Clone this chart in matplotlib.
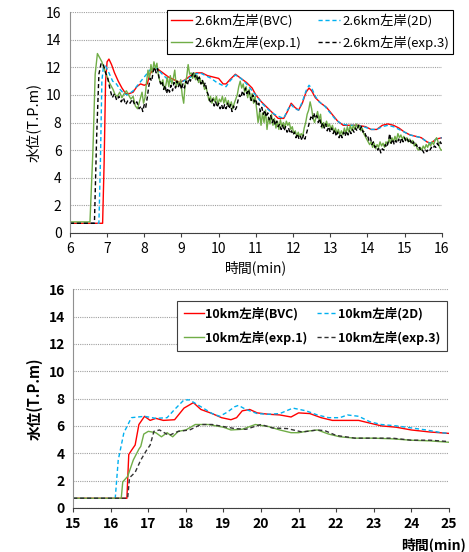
import matplotlib
matplotlib.use('Agg')
import matplotlib.pyplot as plt

plt.rcParams['font.family'] = ['Noto Sans CJK JP', 'DejaVu Sans']

# ---- 2.6km (upper chart) ----
t_bvc_26 = [6.0, 6.88, 6.92, 6.96, 7.0, 7.05, 7.12, 7.2, 7.3, 7.4, 7.5, 7.6, 7.7, 7.8, 7.9, 8.0, 8.08, 8.15,
            8.25, 8.35, 8.5, 8.65, 8.8, 8.95, 9.1, 9.25, 9.4, 9.55, 9.7, 9.85, 10.0, 10.12, 10.2, 10.3, 10.45,
            10.6, 10.75, 10.9, 11.0, 11.15, 11.3, 11.45, 11.6, 11.75, 11.85, 11.95, 12.05, 12.15, 12.25, 12.35,
            12.43, 12.5, 12.6, 12.75, 12.9, 13.05, 13.2, 13.35, 13.55, 13.75, 13.95, 14.1, 14.25, 14.4, 14.55,
            14.7, 14.85, 15.0, 15.15, 15.3, 15.45, 15.6, 15.7, 15.85, 16.0]
v_bvc_26 = [0.7, 0.7, 5.0, 11.0, 12.4, 12.6, 12.2, 11.6, 11.0, 10.5, 10.1, 10.1, 10.2, 10.6, 10.8, 10.7, 10.8, 11.5,
            11.9, 11.9, 11.6, 11.3, 11.1, 10.9, 11.1, 11.4, 11.6, 11.6, 11.4, 11.3, 11.2, 10.8, 10.8, 11.1, 11.5,
            11.2, 10.9, 10.5, 10.0, 9.5, 9.1, 8.7, 8.3, 8.3, 8.8, 9.4, 9.1, 8.9, 9.4, 10.2,
            10.5, 10.3, 9.8, 9.4, 9.1, 8.6, 8.1, 7.8, 7.8, 7.8, 7.7, 7.5, 7.5, 7.8, 7.9,
            7.8, 7.6, 7.3, 7.1, 7.0, 6.9, 6.6, 6.5, 6.8, 6.9]

t_2d_26 = [6.0, 6.78, 6.82, 6.86, 6.9, 6.96, 7.05, 7.15, 7.25, 7.35, 7.45, 7.55, 7.7, 7.85, 8.0, 8.15, 8.3, 8.45,
           8.6, 8.75, 8.9, 9.05, 9.2, 9.35, 9.5, 9.65, 9.8, 9.95, 10.1, 10.2, 10.3, 10.45, 10.6, 10.75, 10.9,
           11.05, 11.2, 11.35, 11.5, 11.65, 11.75, 11.85, 11.95, 12.05, 12.15, 12.25, 12.35, 12.43, 12.5, 12.6,
           12.7, 12.85, 13.0, 13.15, 13.3, 13.5, 13.7, 13.9, 14.1, 14.25, 14.4, 14.55, 14.7, 14.85, 15.0, 15.15,
           15.3, 15.45, 15.6, 15.7, 15.85, 16.0]
v_2d_26 = [0.7, 0.7, 5.0, 11.0, 12.0, 12.1, 11.6, 11.0, 10.8, 10.4, 10.1, 10.0, 10.3, 10.8, 11.3, 11.8, 12.0, 11.6,
           11.2, 10.9, 10.8, 11.0, 11.2, 11.5, 11.6, 11.4, 11.2, 10.9, 10.7, 10.6, 11.0, 11.45, 11.2, 10.8, 10.3,
           9.8, 9.3, 8.9, 8.6, 8.4, 8.3, 8.9, 9.3, 9.0, 8.9, 9.5, 10.3, 10.7, 10.5, 9.9,
           9.5, 9.2, 8.7, 8.2, 7.9, 7.8, 7.8, 7.7, 7.5, 7.5, 7.7, 7.8, 7.7, 7.5, 7.3, 7.1,
           7.0, 6.9, 6.6, 6.5, 6.8, 6.9]

t_exp1_26 = [6.0, 6.54, 6.62, 6.68, 6.74, 6.8, 6.86, 6.92, 6.98, 7.04, 7.1, 7.16, 7.22, 7.28, 7.34, 7.4, 7.46,
             7.52, 7.58, 7.64, 7.7, 7.76, 7.82, 7.88, 7.94, 7.98, 8.02, 8.06, 8.1, 8.14, 8.18, 8.22, 8.26, 8.3,
             8.34, 8.38, 8.42, 8.46, 8.5, 8.54, 8.58, 8.62, 8.66, 8.7, 8.74, 8.78, 8.82, 8.86, 8.9, 8.94, 8.98,
             9.02, 9.06, 9.1, 9.14, 9.18, 9.22, 9.26, 9.3, 9.34, 9.38, 9.42, 9.46, 9.5, 9.54, 9.58, 9.62, 9.66,
             9.7, 9.74, 9.78, 9.82, 9.86, 9.9, 9.94, 9.98, 10.02, 10.06, 10.1, 10.14, 10.18, 10.22, 10.26, 10.3,
             10.34, 10.38, 10.42, 10.46, 10.5, 10.54, 10.58, 10.62, 10.66, 10.7, 10.74, 10.78, 10.82, 10.86, 10.9,
             10.94, 10.98, 11.02, 11.06, 11.1, 11.14, 11.18, 11.22, 11.26, 11.3, 11.34, 11.38, 11.42, 11.46, 11.5,
             11.54, 11.58, 11.62, 11.66, 11.7, 11.74, 11.78, 11.82, 11.86, 11.9, 11.94, 11.98, 12.02, 12.06, 12.1,
             12.14, 12.18, 12.22, 12.26, 12.3, 12.34, 12.38, 12.42, 12.46, 12.5, 12.54, 12.58, 12.62, 12.66, 12.7,
             12.74, 12.78, 12.82, 12.86, 12.9, 12.94, 12.98, 13.02, 13.06, 13.1, 13.14, 13.18, 13.22, 13.26, 13.3,
             13.34, 13.38, 13.42, 13.46, 13.5, 13.54, 13.58, 13.62, 13.66, 13.7, 13.74, 13.78, 13.82, 13.86, 13.9,
             13.94, 13.98, 14.02, 14.06, 14.1, 14.14, 14.18, 14.22, 14.26, 14.3, 14.34, 14.38, 14.42, 14.46, 14.5,
             14.54, 14.58, 14.62, 14.66, 14.7, 14.74, 14.78, 14.82, 14.86, 14.9, 14.94, 14.98, 15.02, 15.06, 15.1,
             15.14, 15.18, 15.22, 15.26, 15.3, 15.34, 15.38, 15.42, 15.46, 15.5, 15.54, 15.58, 15.62, 15.66, 15.7,
             15.74, 15.78, 15.82, 15.86, 15.9, 15.94, 15.98, 16.0]
v_exp1_26 = [0.8, 0.8, 6.0, 11.5, 13.0, 12.7, 12.4, 11.9, 11.5, 11.0, 10.7, 10.4, 10.0, 9.9, 10.2, 9.8, 10.1,
             10.3, 10.0, 9.7, 9.9, 9.2, 9.0, 9.6, 10.2, 9.4, 9.8, 10.9, 11.8, 11.2, 12.2, 11.6, 12.4, 11.9,
             12.3, 11.4, 11.0, 10.8, 11.1, 10.4, 10.7, 11.3, 10.6, 11.4, 10.8, 11.2, 11.8, 10.6, 11.0, 10.7, 11.1,
             10.0, 9.4, 10.8, 11.3, 12.2, 11.5, 11.6, 11.2, 11.6, 11.1, 11.4, 10.9, 11.2, 10.8, 11.0, 10.4, 10.6,
             10.1, 9.6, 9.9, 9.4, 9.8, 9.5, 9.9, 9.3, 9.7, 9.5, 9.9, 9.4, 9.8, 9.3, 9.6, 9.1,
             9.5, 9.0, 9.4, 9.7, 10.0, 10.6, 11.0, 10.5, 10.8, 10.2, 10.6, 9.8, 10.4, 9.6, 10.1,
             9.4, 9.9, 9.0, 8.0, 8.8, 7.8, 8.7, 8.0, 8.9, 7.5, 8.4, 7.9, 8.6, 7.8, 8.3,
             7.6, 8.1, 7.5, 8.2, 7.7, 8.0, 7.6, 8.1, 7.8, 8.0, 7.5, 7.7, 7.2, 7.4, 7.0,
             7.3, 7.0, 7.2, 7.0, 7.6, 8.0, 8.6, 8.9, 9.5, 9.0, 8.3, 8.0, 8.4, 8.8, 8.2,
             8.6, 7.6, 8.0, 7.7, 8.1, 7.7, 7.9, 7.5, 7.8, 7.3, 7.6, 7.2, 7.5, 7.1, 7.4,
             7.1, 7.6, 7.2, 7.7, 7.3, 7.8, 7.4, 7.8, 7.5, 7.9, 7.6, 7.8, 7.4, 7.6, 7.2,
             7.0, 6.8, 6.6, 6.4, 6.6, 6.2, 6.5, 6.1, 6.4, 6.2, 6.6, 6.3, 6.5, 6.2, 6.6,
             6.4, 6.8, 6.5, 6.9, 6.6, 7.0, 6.7, 7.2, 6.9, 7.1, 6.8, 7.0, 6.7, 6.9, 6.6,
             6.8, 6.5, 6.7, 6.3, 6.5, 6.1, 6.0, 6.2, 6.0, 6.3, 6.1, 6.4, 6.2, 6.5, 6.3,
             6.6, 6.4, 6.7, 6.9, 6.6, 6.2, 6.0, 6.0]

t_exp3_26 = [6.0, 6.66, 6.72, 6.78, 6.84, 6.9, 6.96, 7.02, 7.08, 7.14, 7.2, 7.26, 7.32, 7.38, 7.44, 7.5, 7.56,
             7.62, 7.68, 7.74, 7.8, 7.86, 7.92, 7.96, 8.0, 8.04, 8.08, 8.12, 8.16, 8.2, 8.24, 8.28, 8.32, 8.36,
             8.4, 8.44, 8.48, 8.52, 8.56, 8.6, 8.64, 8.68, 8.72, 8.76, 8.8, 8.84, 8.88, 8.92, 8.96, 9.0, 9.04,
             9.08, 9.12, 9.16, 9.2, 9.24, 9.28, 9.32, 9.36, 9.4, 9.44, 9.48, 9.52, 9.56, 9.6, 9.64, 9.68, 9.72,
             9.76, 9.8, 9.84, 9.88, 9.92, 9.96, 10.0, 10.04, 10.08, 10.12, 10.16, 10.2, 10.24, 10.28, 10.32,
             10.36, 10.4, 10.44, 10.48, 10.52, 10.56, 10.6, 10.64, 10.68, 10.72, 10.76, 10.8, 10.84, 10.88,
             10.92, 10.96, 11.0, 11.04, 11.08, 11.12, 11.16, 11.2, 11.24, 11.28, 11.32, 11.36, 11.4, 11.44,
             11.48, 11.52, 11.56, 11.6, 11.64, 11.68, 11.72, 11.76, 11.8, 11.84, 11.88, 11.92, 11.96, 12.0,
             12.04, 12.08, 12.12, 12.16, 12.2, 12.24, 12.28, 12.32, 12.36, 12.4, 12.44, 12.48, 12.52, 12.56,
             12.6, 12.64, 12.68, 12.72, 12.76, 12.8, 12.84, 12.88, 12.92, 12.96, 13.0, 13.04, 13.08, 13.12,
             13.16, 13.2, 13.24, 13.28, 13.32, 13.36, 13.4, 13.44, 13.48, 13.52, 13.56, 13.6, 13.64, 13.68,
             13.72, 13.76, 13.8, 13.84, 13.88, 13.92, 13.96, 14.0, 14.04, 14.08, 14.12, 14.16, 14.2, 14.24,
             14.28, 14.32, 14.36, 14.4, 14.44, 14.48, 14.52, 14.56, 14.6, 14.64, 14.68, 14.72, 14.76, 14.8,
             14.84, 14.88, 14.92, 14.96, 15.0, 15.04, 15.08, 15.12, 15.16, 15.2, 15.24, 15.28, 15.32, 15.36,
             15.4, 15.44, 15.48, 15.52, 15.56, 15.6, 15.64, 15.68, 15.72, 15.76, 15.8, 15.84, 15.88, 15.92,
             15.96, 16.0]
v_exp3_26 = [0.7, 0.7, 7.0, 11.5, 12.3, 12.2, 11.6, 11.2, 10.4, 9.8, 10.1, 9.6, 9.9, 9.5, 9.8, 9.3, 9.6,
             9.4, 9.7, 9.3, 9.5, 9.0, 9.2, 8.8, 9.3, 9.1, 9.8, 10.6, 11.2, 11.0, 11.7, 12.0, 11.6, 11.9,
             11.2, 10.8, 11.0, 10.4, 10.7, 10.1, 10.5, 10.2, 10.7, 10.3, 10.9, 10.5, 11.0, 10.6, 10.9, 10.4, 10.8,
             10.5, 11.0, 10.7, 11.2, 11.0, 11.4, 11.6, 11.3, 11.5, 11.0, 11.3, 10.8, 11.1, 10.6, 10.9, 10.3, 10.0,
             9.6, 9.4, 9.7, 9.2, 9.5, 9.1, 9.4, 9.0, 9.3, 8.9, 9.3, 9.0, 9.4, 9.0, 9.3,
             8.8, 9.2, 8.9, 9.1, 9.6, 10.0, 9.8, 10.3, 10.0, 10.5, 10.1, 10.4, 10.0, 9.6,
             10.0, 9.5, 9.7, 9.2, 9.4, 8.8, 9.1, 8.6, 8.9, 8.4, 8.7, 8.2, 8.5, 8.0,
             8.3, 7.8, 8.1, 7.7, 7.9, 7.5, 7.8, 7.4, 7.7, 7.3, 7.6, 7.2, 7.4, 7.1,
             7.3, 6.9, 7.2, 6.8, 7.0, 6.7, 7.1, 6.8, 7.2, 7.6, 8.0, 8.4, 8.2, 8.7,
             8.3, 8.5, 8.0, 8.3, 7.7, 8.0, 7.6, 7.9, 7.4, 7.7, 7.3, 7.6, 7.2, 7.5,
             7.0, 7.3, 6.9, 7.2, 6.9, 7.3, 7.0, 7.4, 7.1, 7.4, 7.2, 7.5, 7.3, 7.6,
             7.4, 7.8, 7.5, 7.7, 7.3, 7.4, 7.0, 7.1, 6.7, 6.9, 6.4, 6.6, 6.2, 6.3,
             6.0, 6.2, 5.8, 6.1, 6.0, 6.4, 6.2, 6.6, 7.2, 6.5, 6.8, 6.4, 6.7, 6.5,
             6.8, 6.5, 6.9, 6.6, 6.9, 6.6, 6.8, 6.5, 6.7, 6.4, 6.6, 6.3, 6.4, 6.1,
             6.2, 5.9, 6.0, 5.8, 6.0, 5.9, 6.1, 6.0, 6.2, 6.1, 6.3, 6.2, 6.5, 6.3,
             6.6, 6.4]

# ---- 10km (lower chart) ----
t_bvc_10 = [15.0, 16.43, 16.48, 16.55, 16.65, 16.75, 16.9, 17.05, 17.2, 17.4, 17.7, 17.95, 18.2, 18.4, 18.7,
            18.95, 19.2, 19.35, 19.5, 19.7, 19.9, 20.2, 20.5, 20.8, 21.0, 21.3, 21.6, 21.9, 22.2, 22.6, 22.9,
            23.2, 23.6, 24.0, 24.5, 25.0]
v_bvc_10 = [0.7, 0.7, 3.9, 4.2, 4.6, 6.1, 6.7, 6.4, 6.55, 6.4, 6.45, 7.3, 7.7, 7.2, 6.9,
            6.6, 6.45, 6.6, 7.1, 7.2, 6.95, 6.85, 6.8, 6.65, 6.95, 6.9, 6.6, 6.4, 6.4, 6.4, 6.2,
            6.0, 5.9, 5.7, 5.55, 5.45]

t_2d_10 = [15.0, 16.12, 16.2, 16.35, 16.55, 16.9, 17.2, 17.5, 17.7, 17.95, 18.1, 18.4, 18.7, 18.9, 19.1, 19.3,
           19.4, 19.6, 19.9, 20.2, 20.5, 20.85, 21.2, 21.5, 21.8, 22.1, 22.3, 22.6, 22.9, 23.2, 23.6, 24.0,
           24.4, 24.8, 25.0]
v_2d_10 = [0.7, 0.7, 3.5, 5.5, 6.6, 6.7, 6.55, 6.6, 7.2, 7.9, 7.9, 7.4, 6.9, 6.7, 7.0, 7.4,
           7.5, 7.2, 6.9, 6.85, 6.9, 7.3, 7.1, 6.8, 6.6, 6.6, 6.8, 6.7, 6.3, 6.1, 6.0, 5.85,
           5.7, 5.5, 5.45]

t_exp1_10 = [15.0, 16.28, 16.32, 16.45, 16.6, 16.75, 16.8, 16.88, 17.0, 17.2, 17.35, 17.5, 17.65, 17.8, 18.0,
             18.25, 18.6, 19.0, 19.2, 19.5, 19.85, 20.2, 20.5, 20.8, 21.0, 21.2, 21.5, 21.8, 22.1, 22.5, 23.0,
             23.5, 24.0, 24.5, 25.0]
v_exp1_10 = [0.7, 0.7, 1.9, 2.3, 3.5, 4.3, 4.5, 5.4, 5.6, 5.5, 5.2, 5.5, 5.2, 5.6, 5.7,
             6.1, 6.1, 5.9, 5.7, 5.75, 6.1, 5.95, 5.7, 5.5, 5.5, 5.6, 5.7, 5.4, 5.2, 5.1, 5.1,
             5.05, 4.95, 4.9, 4.8]

t_exp3_10 = [15.0, 16.45, 16.5, 16.65, 16.8, 16.95, 17.05, 17.15, 17.3, 17.55, 17.8, 18.1, 18.4, 18.7, 19.0,
             19.3, 19.6, 20.0, 20.3, 20.7, 21.1, 21.5, 21.7, 22.0, 22.5, 23.0, 23.5, 24.0, 24.5, 25.0]
v_exp3_10 = [0.7, 0.7, 2.2, 2.6, 3.5, 4.2, 4.6, 5.6, 5.7, 5.3, 5.6, 5.7, 6.1, 6.1, 5.95,
             5.8, 5.75, 6.1, 5.85, 5.8, 5.55, 5.7, 5.65, 5.3, 5.1, 5.1, 5.1, 4.95, 4.95, 4.85]

RED = '#ff0000'
CYAN = '#00b0f0'
GREEN = '#70ad47'
BLACK = '#000000'

fig = plt.figure(figsize=(4.69, 5.52), dpi=100)
ax1 = fig.add_axes([0.149, 0.578, 0.793, 0.400])
ax2 = fig.add_axes([0.156, 0.080, 0.801, 0.396])


def style_axes(ax, xmin, xmax, bold):
    weight = 'bold' if bold else 'normal'
    ax.set_xlim(xmin, xmax)
    ax.set_ylim(0, 16)
    ax.set_xticks(range(xmin, xmax + 1))
    ax.set_yticks(range(0, 17, 2))
    ax.yaxis.grid(True, linestyle=(0, (1, 1)), color='#a0a0a0', linewidth=0.8)
    ax.set_axisbelow(True)
    for s in ['top', 'right']:
        ax.spines[s].set_visible(False)
    ax.spines['left'].set_color('#909090')
    ax.spines['bottom'].set_color('#404040')
    ax.tick_params(axis='x', direction='out', length=3, color='#404040', labelsize=10)
    ax.tick_params(axis='y', length=0, labelsize=10, pad=6)
    for lab in ax.get_xticklabels() + ax.get_yticklabels():
        lab.set_fontweight(weight)
    ax.set_ylabel('水位(T.P.m)', fontsize=10.5, fontweight=weight, labelpad=4)


def row_legend(ax, lines, **kw):
    # 2 columns, filled row by row like the original
    order = [lines[0], lines[2], lines[1], lines[3]]
    return ax.legend(order, [l.get_label() for l in order], ncol=2, loc='upper right',
                     bbox_transform=fig.transFigure, frameon=True, fancybox=False,
                     framealpha=1, borderaxespad=0, **kw)


style_axes(ax1, 6, 16, False)
l1 = ax1.plot(t_bvc_26, v_bvc_26, color=RED, lw=1.0, label='2.6km左岸(BVC)')
l2 = ax1.plot(t_2d_26, v_2d_26, color=CYAN, lw=1.0, ls=(0, (3, 2)), label='2.6km左岸(2D)')
l3 = ax1.plot(t_exp1_26, v_exp1_26, color=GREEN, lw=1.0, label='2.6km左岸(exp.1)')
l4 = ax1.plot(t_exp3_26, v_exp3_26, color=BLACK, lw=1.0, ls=(0, (3, 2)), label='2.6km左岸(exp.3)')
ax1.set_xlabel('時間(min)', fontsize=10, labelpad=3)
leg1 = row_legend(ax1, l1 + l2 + l3 + l4, bbox_to_anchor=(453 / 469, 1 - 10 / 552),
                  fontsize=9.5, edgecolor='black', handlelength=1.6, handletextpad=0.2,
                  columnspacing=1.3, borderpad=0.3, labelspacing=0.6)
leg1.get_frame().set_linewidth(0.8)

style_axes(ax2, 15, 25, True)
m1 = ax2.plot(t_bvc_10, v_bvc_10, color=RED, lw=1.0, label='10km左岸(BVC)')
m2 = ax2.plot(t_2d_10, v_2d_10, color=CYAN, lw=1.0, ls=(0, (3, 2)), label='10km左岸(2D)')
m3 = ax2.plot(t_exp1_10, v_exp1_10, color=GREEN, lw=1.0, label='10km左岸(exp.1)')
m4 = ax2.plot(t_exp3_10, v_exp3_10, color='#333333', lw=1.0, ls=(0, (3, 2)), label='10km左岸(exp.3)')
fig.text(1 - 3 / 469, 1 - 545 / 552, '時間(min)', ha='right', va='center', fontsize=10, fontweight='bold')
leg2 = row_legend(ax2, m1 + m2 + m3 + m4, bbox_to_anchor=(447 / 469, 1 - 301 / 552),
                  prop={'size': 9, 'weight': 'bold'}, edgecolor='#404040', handlelength=1.6,
                  handletextpad=0.1, columnspacing=0.8, borderpad=0.5, labelspacing=0.8)
leg2.get_frame().set_linewidth(0.8)

fig.savefig('out.png', dpi=100)
